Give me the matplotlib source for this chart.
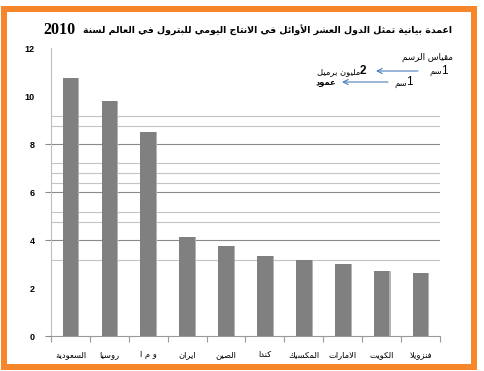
import re
import matplotlib
matplotlib.use("Agg")
import matplotlib.pyplot as plt
from matplotlib.patches import Rectangle

# ---------------- data ----------------
categories = ["السعودية", "روسيا", "و م ا", "ايران", "الصين", "كندا",
              "المكسيك", "الامارات", "الكويت", "فنزويلا"]
values = [10.77, 9.80, 8.52, 4.12, 3.75, 3.33, 3.17, 2.99, 2.70, 2.62]
y_ticks = [0, 2, 4, 6, 8, 10, 12]
grid_lines = [4, 6, 8]
extra_lines = [9.19, 8.77, 7.20, 6.78, 6.40, 5.18, 4.76, 3.19]
title_ar = "اعمدة بيانية تمثل الدول العشر الأوائل في الانتاج اليومي للبترول في العالم لسنة"
title_year = "2010"
scale_title = "مقياس الرسم"
scale_unit = "سم"
scale_one = "1"
scale_two = "2"
scale_value = "مليون برميل"
scale_bar = "عمود"

# ------------- minimal Arabic shaping -------------
_chars = [chr(c) for c in range(0x621, 0x63B)] + [chr(c) for c in range(0x641, 0x64B)]
_nforms = [1, 2, 2, 2, 2, 4, 2, 4, 2, 4, 4, 4, 4, 4, 2, 2, 2, 2, 4, 4, 4, 4, 4, 4, 4, 4,
           4, 4, 4, 4, 4, 4, 4, 2, 2, 4]
FORMS = {}
_code = 0xFE80
for ch, k in zip(_chars, _nforms):
    FORMS[ch] = [_code + j for j in range(k)]
    _code += k
LAM_ALEF = {"آ": (0xFEF5, 0xFEF6), "أ": (0xFEF7, 0xFEF8),
            "إ": (0xFEF9, 0xFEFA), "ا": (0xFEFB, 0xFEFC)}


def _dual(c):
    return c in FORMS and len(FORMS[c]) == 4


def shape(text):
    res = []
    i, n = 0, len(text)
    while i < n:
        c = text[i]
        if c not in FORMS:
            res.append(c)
            i += 1
            continue
        prev = text[i - 1] if i > 0 else ""
        jp = _dual(prev)
        if c == "ل" and i + 1 < n and text[i + 1] in LAM_ALEF:
            lig = LAM_ALEF[text[i + 1]]
            res.append(chr(lig[1] if jp else lig[0]))
            i += 2
            continue
        nxt = text[i + 1] if i + 1 < n else ""
        jn = _dual(c) and nxt in FORMS and nxt != "ء"
        f = FORMS[c]
        if len(f) == 1:
            form = f[0]
        elif len(f) == 2:
            form = f[1] if jp else f[0]
        else:
            form = f[3] if (jp and jn) else f[1] if jp else f[2] if jn else f[0]
        res.append(chr(form))
        i += 1
    return "".join(res)


def visual(text):
    s = shape(text)
    runs = re.findall(r"[0-9A-Za-z]+|[^0-9A-Za-z]+", s)
    out = []
    for r in reversed(runs):
        out.append(r if (r[0].isascii() and r[0].isalnum()) else r[::-1])
    return "".join(out)


# ---------------- figure ----------------
W, H = 485, 371
fig = plt.figure(figsize=(W / 100, H / 100), dpi=100)
fig.patch.set_facecolor("white")


def fx(px):
    return px / W


def fy(py):
    return 1 - py / H


ax = fig.add_axes([fx(51), fy(336), fx(440) - fx(51), fy(48.3) - fy(336)])
ax.set_xlim(-0.5, len(categories) - 0.5)
ax.set_ylim(0, 12)

x = list(range(len(categories)))
ax.bar([xi + 0.03 for xi in x], values, width=0.4, color="#B3B3B3", zorder=2)
ax.bar(x, values, width=0.4, color="#808080", zorder=3)

for yv in extra_lines:
    ax.axhline(yv, color="#C4C4C4", lw=0.8, zorder=1)
for yv in grid_lines:
    ax.axhline(yv, color="#8A8A8A", lw=0.8, zorder=1)

for s in ["top", "right"]:
    ax.spines[s].set_visible(False)
ax.spines["left"].set_color("#BFBFBF")
ax.spines["left"].set_linewidth(0.8)
ax.spines["bottom"].set_color("#9A9A9A")
ax.spines["bottom"].set_linewidth(0.8)

ax.set_yticks(y_ticks)
ax.set_yticklabels([str(t) for t in y_ticks], fontsize=6.5, fontweight="bold",
                   family="Liberation Sans")
ax.tick_params(axis="y", length=4, width=0.8, color="#8A8A8A", pad=8)
for t, v in zip(ax.yaxis.get_major_ticks(), y_ticks):
    if v not in [0] + grid_lines:
        t.tick1line.set_visible(False)

ax.set_xticks(x)
ax.set_xticklabels([visual(c) for c in categories], fontsize=6, family="DejaVu Sans")
ax.tick_params(axis="x", length=0, pad=10)
ax.set_xticks([xi - 0.5 for xi in range(len(categories) + 1)], minor=True)
ax.tick_params(axis="x", which="minor", length=4, width=0.8, color="#9A9A9A")

# ---------------- title ----------------
t_ar = fig.text(fx(452), fy(30), visual(title_ar), ha="right", va="center",
                fontsize=8, fontweight="bold", family="DejaVu Sans")
fig.canvas.draw()
r = fig.canvas.get_renderer()
wbox = t_ar.get_window_extent(r).width
t_ar.set_fontsize(8 * 370 / wbox)
fig.text(fx(43), fy(29.5), title_year, ha="left", va="center", fontsize=11.5,
         fontweight="bold", family="Liberation Serif")

# ---------------- scale legend ----------------
fig.text(fx(453), fy(57), visual(scale_title), ha="right", va="center",
         fontsize=6.3, family="DejaVu Sans")
fig.text(fx(448), fy(71), scale_one, ha="right", va="center", fontsize=8.5,
         family="Liberation Sans")
fig.text(fx(442.5), fy(72), visual(scale_unit), ha="right", va="center",
         fontsize=6, family="DejaVu Sans")
fig.text(fx(366), fy(71), scale_two, ha="right", va="center", fontsize=8.5,
         fontweight="bold", family="Liberation Sans")
fig.text(fx(360), fy(72), visual(scale_value), ha="right", va="center",
         fontsize=6, family="DejaVu Sans")
fig.text(fx(413), fy(82), scale_one, ha="right", va="center", fontsize=8.5,
         family="Liberation Sans")
fig.text(fx(407.5), fy(83), visual(scale_unit), ha="right", va="center",
         fontsize=6, family="DejaVu Sans")
fig.text(fx(336), fy(83), visual(scale_bar), ha="right", va="center",
         fontsize=6, fontweight="bold", family="DejaVu Sans")

arrow_kw = dict(arrowstyle="->", color="#4A7EBB", lw=0.8,
                shrinkA=0, shrinkB=0, mutation_scale=9)
fig.add_artist(matplotlib.patches.FancyArrowPatch(
    (fx(418), fy(71)), (fx(376), fy(71)), transform=fig.transFigure, **arrow_kw))
fig.add_artist(matplotlib.patches.FancyArrowPatch(
    (fx(388), fy(82)), (fx(342), fy(82)), transform=fig.transFigure, **arrow_kw))

# ---------------- orange frame ----------------
fig.add_artist(Rectangle((fx(4), fy(366.5)), fx(474.5) - fx(4), fy(8.5) - fy(366.5),
                         transform=fig.transFigure, fill=False,
                         edgecolor="#F7862B", lw=4.3))

fig.savefig("out.png", dpi=100)
